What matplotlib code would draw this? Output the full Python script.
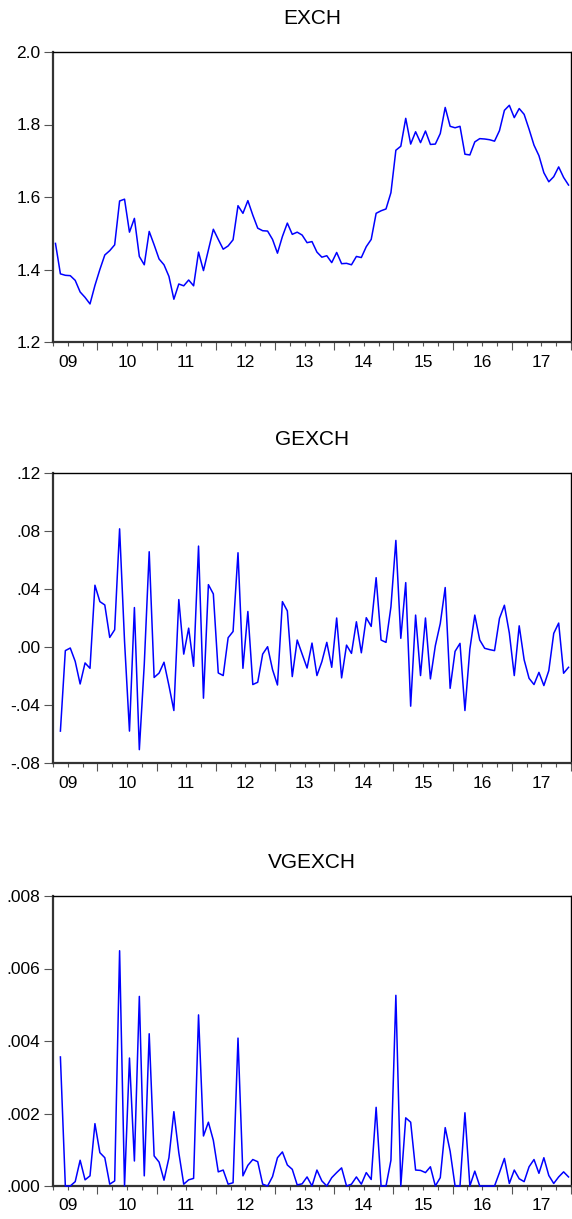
import matplotlib
matplotlib.use("Agg")
import matplotlib.pyplot as plt
import numpy as np
import pandas as pd

plt.rcParams['font.family'] = ['Liberation Sans', 'DejaVu Sans']

# monthly sample 2009M04 - 2017M12
months = pd.period_range('2009-04', '2017-12', freq='M')

exch = [1.472, 1.388, 1.384, 1.383, 1.370, 1.338, 1.323, 1.305, 1.356, 1.400,
        1.440, 1.452, 1.468, 1.589, 1.594, 1.503, 1.541, 1.436, 1.413, 1.505,
        1.468, 1.429, 1.413, 1.381, 1.318, 1.360, 1.355, 1.371, 1.355, 1.448,
        1.397, 1.454, 1.511, 1.483, 1.456, 1.465, 1.482, 1.576, 1.555, 1.590,
        1.550, 1.514, 1.507, 1.506, 1.483, 1.445, 1.491, 1.528, 1.497, 1.503,
        1.495, 1.474, 1.477, 1.448, 1.434, 1.438, 1.419, 1.447, 1.416, 1.417,
        1.413, 1.436, 1.433, 1.463, 1.483, 1.555, 1.562, 1.567, 1.612, 1.729,
        1.740, 1.817, 1.746, 1.780, 1.750, 1.782, 1.745, 1.746, 1.775, 1.847,
        1.795, 1.791, 1.795, 1.718, 1.716, 1.752, 1.761, 1.760, 1.758, 1.754,
        1.783, 1.839, 1.853, 1.819, 1.844, 1.828, 1.787, 1.743, 1.714, 1.667,
        1.642, 1.656, 1.683, 1.654, 1.633]

gexch = [np.nan, -0.058, -0.0025, -0.0007, -0.0099, -0.0255, -0.011, -0.0147, 0.0426, 0.0313,
         0.029, 0.0066, 0.0119, 0.0815, 0.004, -0.058, 0.0272, -0.0708, -0.012, 0.0657,
         -0.021, -0.018, -0.0105, -0.0266, -0.0438, 0.0327, -0.0049, 0.013, -0.0133, 0.0696,
         -0.0353, 0.043, 0.0366, -0.0179, -0.0197, 0.0064, 0.0107, 0.065, -0.0147, 0.0245,
         -0.0259, -0.0243, -0.0049, 0.0002, -0.0156, -0.0262, 0.0313, 0.0249, -0.0204, 0.0048,
         -0.0049, -0.0145, 0.0027, -0.0197, -0.0101, 0.0032, -0.014, 0.020, -0.0213, 0.0013,
         -0.0044, 0.0174, -0.004, 0.0202, 0.0142, 0.0478, 0.0048, 0.0032, 0.0277, 0.0735,
         0.006, 0.0444, -0.0408, 0.022, -0.0197, 0.020, -0.022, 0.0009, 0.0162, 0.041,
         -0.0285, -0.003, 0.0025, -0.0438, -0.0014, 0.022, 0.0048, -0.0009, -0.0018, -0.0025,
         0.0197, 0.0288, 0.0096, -0.0197, 0.0146, -0.0088, -0.0216, -0.0259, -0.0175, -0.0266,
         -0.0163, 0.0094, 0.0165, -0.0181, -0.014]

vgexch = [np.nan, 0.00356, 0.0, 0.0, 0.00012, 0.00071, 0.00017, 0.00028, 0.00172, 0.00092,
          0.00078, 0.00005, 0.00014, 0.00649, 0.0, 0.00353, 0.00069, 0.00523, 0.00028, 0.0042,
          0.00083, 0.00066, 0.00016, 0.00078, 0.00205, 0.00092, 0.00005, 0.00017, 0.00021, 0.00472,
          0.00138, 0.00176, 0.00126, 0.00039, 0.00044, 0.00005, 0.00009, 0.00408, 0.00028, 0.00057,
          0.00073, 0.00067, 0.00005, 0.0, 0.00026, 0.00078, 0.00094, 0.00058, 0.00046, 0.00003,
          0.00006, 0.00025, 0.0, 0.00044, 0.00014, 0.0, 0.00023, 0.00037, 0.0005, 0.0,
          0.00005, 0.00025, 0.00005, 0.00037, 0.00018, 0.00217, 0.0, 0.0, 0.00071, 0.00526,
          0.0, 0.00188, 0.00176, 0.00044, 0.00043, 0.00037, 0.00053, 0.0, 0.00023, 0.00161,
          0.00096, 0.0, 0.0, 0.00202, 0.0, 0.00041, 0.0, 0.0, 0.0, 0.0,
          0.00037, 0.00076, 0.00007, 0.00044, 0.0002, 0.00012, 0.00053, 0.00073, 0.00035, 0.00078,
          0.00029, 0.00007, 0.00025, 0.00039, 0.00025]

titles = ['EXCH', 'GEXCH', 'VGEXCH']
series = [exch, gexch, vgexch]
ylims = [(1.2, 2.0), (-0.08, 0.12), (0.0, 0.008)]
yticks = [[1.2, 1.4, 1.6, 1.8, 2.0],
          [-0.08, -0.04, 0.0, 0.04, 0.08, 0.12],
          [0.0, 0.002, 0.004, 0.006, 0.008]]
ylabels = [['1.2', '1.4', '1.6', '1.8', '2.0'],
           ['-.08', '-.04', '.00', '.04', '.08', '.12'],
           ['.000', '.002', '.004', '.006', '.008']]
years = list(range(2009, 2018))
year_labels = ['%02d' % (y % 100) for y in years]

# month midpoints in decimal years
x = np.array([m.year + (m.month - 0.5) / 12.0 for m in months])
x0 = months[0].year + (months[0].month - 1) / 12.0
x1 = months[-1].year + months[-1].month / 12.0

W, H = 572, 1219
fig = plt.figure(figsize=(W / 100, H / 100), dpi=100)
tops = [52, 473, 896]
left_px, right_px, hgt = 53, 571, 290

for k in range(3):
    ax = fig.add_axes([left_px / W, 1 - (tops[k] + hgt) / H,
                       (right_px - left_px) / W, hgt / H])
    ax.plot(x, series[k], color='#0000ff', lw=1.1, zorder=3, clip_on=False)
    ax.set_xlim(x0, x1)
    ax.set_ylim(*ylims[k])
    ax.set_yticks(yticks[k])
    ax.set_yticklabels(ylabels[k])
    ax.tick_params(axis='y', direction='out', length=6.5, width=0.8,
                   color='#555555', pad=2.5, labelsize=12.5)

    # year boundaries (long) and quarter ticks (short)
    ax.set_xticks([y for y in years if x0 < y <= x1] + [x1])
    ax.set_xticks([q for q in np.arange(2009, 2018.01, 0.25) if x0 <= q <= x1], minor=True)
    ax.tick_params(axis='x', which='major', direction='out', length=6, width=0.8,
                   color='#555555', labelbottom=False)
    ax.tick_params(axis='x', which='minor', direction='out', length=3, width=0.8,
                   color='#555555')

    sec = ax.secondary_xaxis('bottom')
    sec.set_xticks([y + 0.5 for y in years])
    sec.set_xticklabels(year_labels)
    sec.tick_params(length=0, pad=9, labelsize=12.5)
    sec.spines['bottom'].set_visible(False)

    for s in ['left', 'bottom']:
        ax.spines[s].set_linewidth(1.6)
        ax.spines[s].set_color('#333333')
    for s in ['top', 'right']:
        ax.spines[s].set_linewidth(1.0)
        ax.spines[s].set_color('black')

    ax.set_title(titles[k], fontsize=15, pad=20)

fig.savefig('out.png', dpi=100)
